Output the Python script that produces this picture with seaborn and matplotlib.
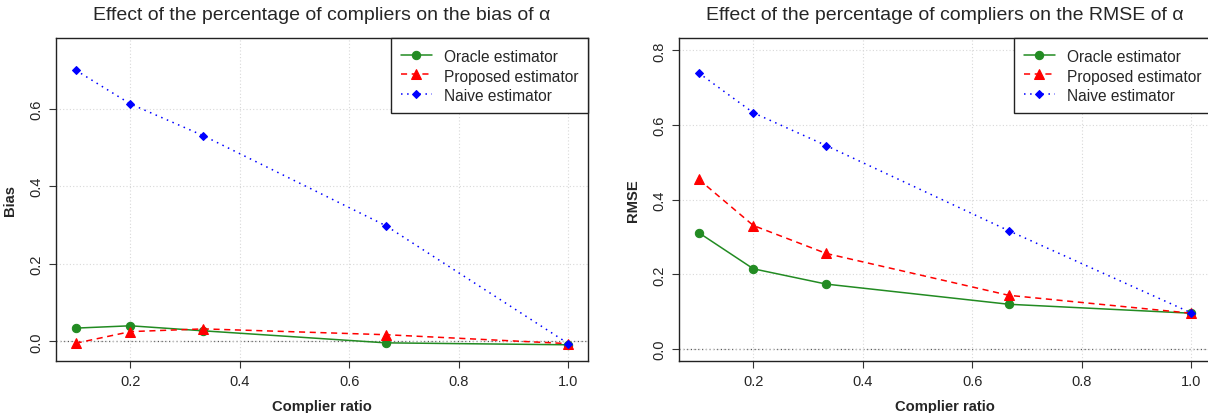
import numpy as np
import pandas as pd
import seaborn as sns
import matplotlib.pyplot as plt

sns.set_style("white")
plt.rcParams['font.family'] = ['Liberation Sans', 'DejaVu Sans']

complier_ratio = [0.1, 0.2, 1/3, 2/3, 1.0]

bias_oracle = [0.034, 0.040, 0.027, -0.004, -0.009]
bias_proposed = [-0.005, 0.025, 0.032, 0.017, -0.006]
bias_naive = [0.699, 0.612, 0.530, 0.298, -0.006]

rmse_oracle = [0.312, 0.215, 0.174, 0.120, 0.096]
rmse_proposed = [0.455, 0.331, 0.256, 0.144, 0.096]
rmse_naive = [0.740, 0.633, 0.545, 0.317, 0.097]

estimators = ["Oracle estimator", "Proposed estimator", "Naive estimator"]
colors = ["#228b22", "#ff0000", "#0000ff"]
linestyles = ["-", (0, (4, 3)), (0, (1, 3))]
markers = ["o", "^", "D"]
msizes = [6, 7, 4]

fig = plt.figure(figsize=(12.08, 4.14), dpi=100)
ax1 = fig.add_axes([0.0464, 0.1256, 0.4404, 0.779])
ax2 = fig.add_axes([0.562, 0.1256, 0.4404, 0.779])


def draw(ax, series, title, ylabel, ylim, yticks):
    for name, vals, c, ls, m, ms in zip(estimators, series, colors, linestyles, markers, msizes):
        df = pd.DataFrame({"x": complier_ratio, "y": vals})
        sns.lineplot(data=df, x="x", y="y", ax=ax, color=c, linestyle=ls, marker=m,
                     markersize=ms, markeredgecolor=c, linewidth=1.1, label=name)
    ax.axhline(0, color="#555555", linestyle=(0, (1, 2)), linewidth=0.9, zorder=0)
    ax.set_xlim(0.064, 1.036)
    span = ylim[1] - ylim[0]
    ax.set_ylim(ylim[0] - 0.04 * span, ylim[1] + 0.04 * span)
    ax.set_xticks([0.2, 0.4, 0.6, 0.8, 1.0])
    ax.set_xticklabels(["0.2", "0.4", "0.6", "0.8", "1.0"])
    ax.set_yticks(yticks)
    ax.set_yticklabels([f"{t:.1f}" for t in yticks], rotation=90, va="center")
    ax.grid(True, color="#d8d8d8", linestyle=(0, (1, 2)), linewidth=0.8)
    ax.tick_params(axis="both", direction="out", length=5, width=0.8, color="#333333",
                   labelsize=10.5, left=True, bottom=True, pad=4)
    for sp in ax.spines.values():
        sp.set_color("#222222")
        sp.set_linewidth(1.0)
    ax.set_title(title, fontsize=14, pad=14)
    ax.set_xlabel("Complier ratio", fontsize=10.6, fontweight="bold", labelpad=8)
    ax.set_ylabel(ylabel, fontsize=10.6, fontweight="bold", labelpad=9)
    leg = ax.legend(loc="upper right", borderaxespad=0, fancybox=False, fontsize=11.2,
                    handlelength=2.0, handletextpad=0.8, labelspacing=0.2,
                    handleheight=1.25, borderpad=0.6, framealpha=1)
    leg.get_frame().set_edgecolor("#222222")
    leg.get_frame().set_linewidth(1.0)


draw(ax1, [bias_oracle, bias_proposed, bias_naive],
     "Effect of the percentage of compliers on the bias of α", "Bias",
     (-0.02, 0.75), [0.0, 0.2, 0.4, 0.6])
draw(ax2, [rmse_oracle, rmse_proposed, rmse_naive],
     "Effect of the percentage of compliers on the RMSE of α", "RMSE",
     (0.0, 0.8), [0.0, 0.2, 0.4, 0.6, 0.8])

fig.savefig("out.png", dpi=100)
